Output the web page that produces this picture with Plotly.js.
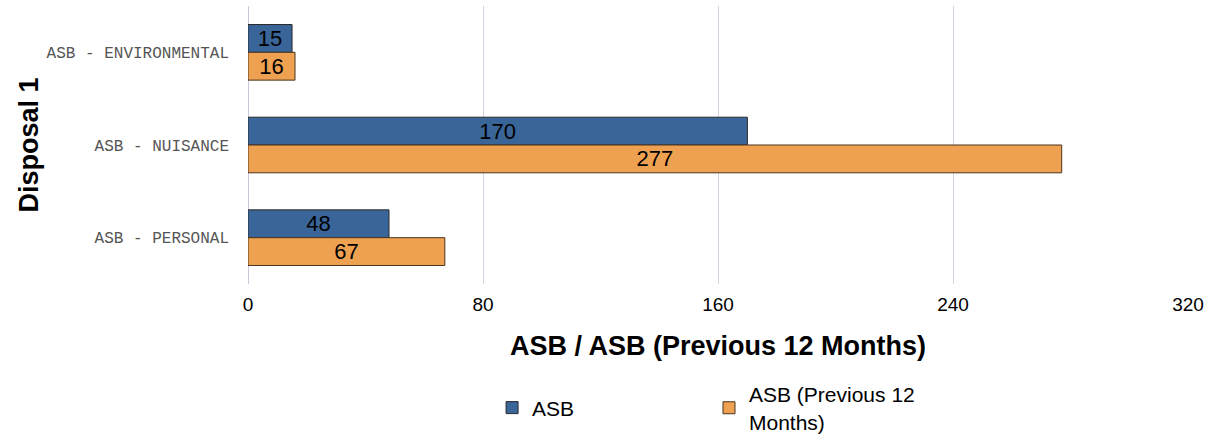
<!DOCTYPE html>
<html>
<head>
<meta charset="utf-8">
<script src="https://cdn.plot.ly/plotly-3.0.1.min.js"></script>
<style>html,body{margin:0;padding:0;background:#fff;}#chart{width:1218px;height:434px;}</style>
</head>
<body>
<div id="chart"></div>
<script>
const categories = ["ASB - ENVIRONMENTAL", "ASB - NUISANCE", "ASB - PERSONAL"];
const asbValues = [15, 170, 48];
const asbPrevValues = [16, 277, 67];
const seriesNames = ["ASB", "ASB (Previous 12<br>Months)"];
const xTicks = [0, 80, 160, 240, 320];

const common = {
  type: 'bar', orientation: 'h', y: categories,
  textposition: 'inside', insidetextanchor: 'middle', textangle: 0, constraintext: 'none',
  textfont: {family: 'Arial, Liberation Sans, sans-serif', size: 22, color: '#000'},
  hoverinfo: 'none'
};
const data = [
  Object.assign({}, common, {name: seriesNames[0], x: asbValues, text: asbValues.map(String), legend: 'legend',
    marker: {color: '#3a6598', line: {color: '#2a2a2a', width: 1}}}),
  Object.assign({}, common, {name: seriesNames[1], x: asbPrevValues, text: asbPrevValues.map(String), legend: 'legend2',
    marker: {color: '#eea151', line: {color: '#4a3520', width: 1}}})
];
const legendFont = {family: 'Arial, Liberation Sans, sans-serif', size: 21, color: '#000'};
const layout = {
  width: 1218, height: 434,
  margin: {l: 248, r: 30, t: 6, b: 150, autoexpand: false},
  barmode: 'group', bargap: 0.4, bargroupgap: 0,
  paper_bgcolor: '#fff', plot_bgcolor: '#fff',
  showlegend: true,
  legend: {orientation: 'h', xref: 'container', yref: 'container', x: 0.404, xanchor: 'left', y: 0.06, yanchor: 'middle', font: legendFont},
  legend2: {orientation: 'h', xref: 'container', yref: 'container', x: 0.5821, xanchor: 'left', y: 0.06, yanchor: 'middle', font: legendFont},
  xaxis: {range: [0, 320], tickvals: xTicks, ticktext: xTicks.map(String),
    showgrid: true, gridcolor: '#d4d4e4', gridwidth: 1,
    zeroline: true, zerolinecolor: '#c8c8dc', zerolinewidth: 1,
    showline: false, ticks: '', ticklabelstandoff: 7,
    tickfont: {family: 'Arial, Liberation Sans, sans-serif', size: 19, color: '#000'},
    title: {text: 'ASB / ASB (Previous 12 Months)', standoff: 22,
      font: {family: 'Arial, Liberation Sans, sans-serif', size: 27, color: '#000', weight: 'bold'}}},
  yaxis: {type: 'category', autorange: 'reversed', showgrid: false, zeroline: false, showline: false,
    ticks: '', ticklabelstandoff: 18,
    tickfont: {family: 'Liberation Mono, Courier New, monospace', size: 16, color: '#555'},
    title: {text: 'Disposal 1', standoff: 0,
      font: {family: 'Arial, Liberation Sans, sans-serif', size: 27, color: '#000', weight: 'bold'}}}
};
Plotly.newPlot('chart', data, layout, {displayModeBar: false, staticPlot: true});
</script>
</body>
</html>
